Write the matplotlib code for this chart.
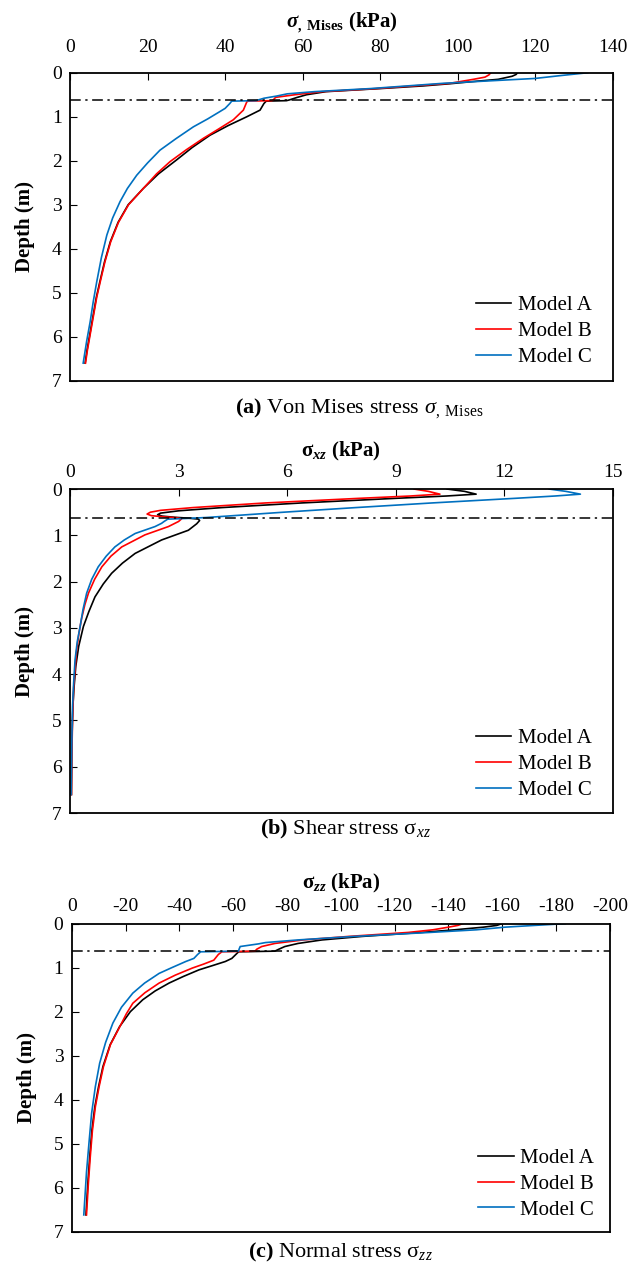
import matplotlib
matplotlib.use("Agg")
import matplotlib.pyplot as plt

plt.rcParams['font.family'] = ['Liberation Serif', 'DejaVu Serif']
plt.rcParams['mathtext.fontset'] = 'custom'
plt.rcParams['mathtext.rm'] = 'Liberation Serif'
plt.rcParams['mathtext.it'] = 'Liberation Serif:italic'
plt.rcParams['mathtext.bf'] = 'Liberation Serif:bold'
plt.rcParams['mathtext.bfit'] = 'Liberation Serif:italic:bold'
plt.rcParams['axes.unicode_minus'] = False

# ---- (a) Von Mises stress (kPa) vs depth (m)
a_depth_A = [0, 0.04, 0.08, 0.15, 0.2, 0.25, 0.3, 0.36, 0.43, 0.5, 0.56, 0.62, 0.635, 0.645, 0.7, 0.85, 1.0, 1.2, 1.42, 1.7, 1.98, 2.3, 2.63, 3.0, 3.4, 3.84, 4.3, 4.75, 5.1, 5.5, 6.0, 6.3, 6.6]
a_val_A = [115.4, 115, 114, 110.4, 104, 98, 91, 80, 66, 61, 58.6, 56.5, 55.8, 50.6, 50.0, 49.0, 45.6, 40.8, 36.1, 31.5, 27.5, 22.8, 18.9, 15.0, 12.4, 10.4, 8.9, 7.7, 6.8, 6.0, 5.0, 4.4, 3.9]
a_depth_B = [0, 0.05, 0.1, 0.15, 0.24, 0.36, 0.43, 0.5, 0.56, 0.62, 0.635, 0.645, 0.66, 0.85, 1.07, 1.28, 1.49, 1.75, 2.02, 2.3, 2.63, 3.0, 3.4, 3.84, 4.3, 4.75, 5.1, 5.5, 6.0, 6.3, 6.6]
a_val_B = [108.5, 108, 107, 104, 98, 79, 65, 58, 53, 52.4, 52, 46, 45.6, 44.7, 42.1, 38.3, 34.4, 30.0, 25.8, 22.3, 18.9, 15.1, 12.5, 10.5, 9.0, 7.8, 6.9, 6.1, 5.1, 4.5, 4.0]
a_depth_C = [0, 0.06, 0.13, 0.24, 0.36, 0.43, 0.48, 0.53, 0.58, 0.62, 0.635, 0.645, 0.7, 0.81, 0.88, 1.05, 1.23, 1.5, 1.76, 2.05, 2.33, 2.63, 2.93, 3.3, 3.69, 4.2, 4.75, 5.2, 5.66, 6.1, 6.6]
a_val_C = [133.5, 127, 119.9, 96.3, 77.5, 63, 56, 53.3, 50, 48.5, 48, 41.7, 41.2, 40.0, 38.7, 35.5, 31.8, 27.3, 23.2, 20.0, 17.2, 14.8, 12.9, 11.0, 9.5, 8.1, 6.9, 6.0, 5.2, 4.3, 3.4]

# ---- (b) Shear stress (kPa)
b_depth_A = [0, 0.05, 0.11, 0.15, 0.2, 0.3, 0.4, 0.47, 0.52, 0.555, 0.585, 0.61, 0.63, 0.65, 0.68, 0.75, 0.89, 1.1, 1.39, 1.6, 1.82, 2.05, 2.33, 2.65, 2.97, 3.4, 3.83, 4.3, 4.7, 5.5, 6.6]
b_val_A = [10.42, 10.9, 11.22, 10.4, 9.0, 6.4, 4.2, 3.0, 2.5, 2.42, 2.55, 2.9, 3.3, 3.55, 3.58, 3.5, 3.27, 2.53, 1.80, 1.45, 1.15, 0.92, 0.69, 0.52, 0.37, 0.24, 0.16, 0.11, 0.08, 0.05, 0.04]
b_depth_B = [0, 0.05, 0.11, 0.15, 0.2, 0.3, 0.4, 0.46, 0.5, 0.54, 0.575, 0.6, 0.62, 0.645, 0.7, 0.81, 0.99, 1.1, 1.25, 1.45, 1.68, 1.95, 2.25, 2.5, 2.8, 3.1, 3.5, 4.3, 5.0, 5.8, 6.6]
b_val_B = [9.51, 9.9, 10.22, 9.4, 8.0, 5.4, 3.4, 2.5, 2.22, 2.13, 2.25, 2.6, 2.95, 3.08, 3.0, 2.72, 2.07, 1.8, 1.43, 1.13, 0.88, 0.68, 0.51, 0.41, 0.32, 0.25, 0.18, 0.1, 0.07, 0.05, 0.04]
b_depth_C = [0, 0.05, 0.11, 0.15, 0.2, 0.3, 0.4, 0.5, 0.57, 0.615, 0.635, 0.65, 0.7, 0.74, 0.81, 0.96, 1.1, 1.25, 1.45, 1.68, 1.95, 2.25, 2.6, 2.97, 3.3, 3.69, 4.2, 4.7, 5.5, 6.6]
b_val_C = [13.24, 13.7, 14.1, 13.4, 12.3, 10.0, 7.9, 5.9, 4.6, 3.76, 3.2, 2.7, 2.6, 2.53, 2.35, 1.80, 1.5, 1.24, 1.0, 0.78, 0.6, 0.46, 0.36, 0.28, 0.2, 0.14, 0.1, 0.07, 0.05, 0.03]

# ---- (c) Normal stress (kPa)
c_depth_A = [0, 0.04, 0.08, 0.14, 0.2, 0.29, 0.37, 0.45, 0.52, 0.58, 0.625, 0.64, 0.7, 0.79, 0.86, 0.95, 1.05, 1.2, 1.35, 1.53, 1.73, 2.0, 2.34, 2.75, 3.25, 3.7, 4.16, 4.7, 5.3, 5.9, 6.62]
c_val_A = [-159.8, -158, -153, -142.3, -130, -108, -93, -84.1, -79.2, -77, -75.5, -62.0, -61, -59.5, -57.1, -52.5, -47.3, -41.5, -36.2, -31, -26.4, -21.8, -17.8, -14.3, -11.6, -10.0, -8.6, -7.5, -6.7, -6.0, -5.3]
c_depth_B = [0, 0.04, 0.08, 0.14, 0.2, 0.29, 0.37, 0.45, 0.52, 0.58, 0.625, 0.64, 0.7, 0.83, 0.92, 1.01, 1.17, 1.35, 1.57, 1.81, 2.05, 2.34, 2.75, 3.25, 3.7, 4.16, 4.7, 5.3, 5.9, 6.62]
c_val_B = [-145.3, -143.5, -140, -134.2, -125, -103, -86, -75.5, -70.6, -68.8, -68.1, -55.8, -54.5, -52.8, -49, -44.8, -38.5, -32.5, -27.2, -22.7, -20.3, -17.9, -14.4, -11.8, -10.2, -8.8, -7.7, -6.9, -6.2, -5.5]
c_depth_C = [0, 0.04, 0.08, 0.14, 0.2, 0.29, 0.37, 0.43, 0.46, 0.52, 0.58, 0.625, 0.64, 0.7, 0.79, 0.86, 1.0, 1.13, 1.35, 1.58, 1.9, 2.26, 2.7, 3.17, 3.7, 4.31, 5.0, 5.65, 6.62]
c_val_C = [-183.4, -172, -161, -150.4, -133, -105, -84.1, -72, -69.4, -62.6, -62.2, -62.0, -47.9, -46.8, -45.4, -42.4, -37.2, -32.5, -27.1, -22.7, -18.5, -15.3, -12.6, -10.4, -8.8, -7.4, -6.4, -5.5, -4.5]

models = ["Model A", "Model B", "Model C"]
colors = ["black", "#FF0000", "#0070C0"]
interface_depth = 0.63

fig = plt.figure(figsize=(6.3, 12.67), dpi=100)

panels = [
    dict(rect=[0.1111, 0.6995, 0.8619, 0.2431],
         data=[(a_val_A, a_depth_A), (a_val_B, a_depth_B), (a_val_C, a_depth_C)],
         xlim=(0, 140), xticks=range(0, 141, 20), tpad=12, lpad=8, leg=(0.995, -0.016),
         title=r"$\mathbfit{\sigma}_{\mathbf{,\ Mises}}$ (kPa)",
         caption=r"$\mathbf{(a)}$ Von Mises stress $\sigma_{\mathrm{,\ Mises}}$",
         cap_xy=(0.571, 0.678)),
    dict(rect=[0.1111, 0.3583, 0.8619, 0.2557],
         data=[(b_val_A, b_depth_A), (b_val_B, b_depth_B), (b_val_C, b_depth_C)],
         xlim=(0, 15), xticks=range(0, 16, 3), tpad=6, lpad=5, leg=(0.995, -0.018),
         title=r"$\mathbf{\sigma}_{\mathbfit{xz}}$ (kPa)",
         caption=r"$\mathbf{(b)}$ Shear stress $\mathrm{\sigma}_{xz}$",
         cap_xy=(0.548, 0.345)),
    dict(rect=[0.1138, 0.0279, 0.8544, 0.2431],
         data=[(c_val_A, c_depth_A), (c_val_B, c_depth_B), (c_val_C, c_depth_C)],
         xlim=(0, -200), xticks=range(0, -201, -20), tpad=6, lpad=7, leg=(1.005, -0.022),
         title=r"$\mathbf{\sigma}_{\mathbfit{zz}}$ (kPa)",
         caption=r"$\mathbf{(c)}$ Normal stress $\mathrm{\sigma}_{zz}$",
         cap_xy=(0.540, 0.0118)),
]

for p in panels:
    ax = fig.add_axes(p["rect"])
    for (x, y), c, m in zip(p["data"], colors, models):
        ax.plot(x, y, color=c, lw=1.2, label=m)
    ax.axhline(interface_depth, color="black", lw=1.1, ls=(0, (7, 3, 1.5, 3)))
    ax.set_xlim(*p["xlim"])
    ax.set_ylim(7, 0)
    ax.set_xticks(list(p["xticks"]))
    ax.set_yticks(range(0, 8))
    ax.xaxis.tick_top()
    ax.xaxis.set_label_position("top")
    ax.tick_params(axis="both", direction="in", length=5, labelsize=14, pad=6,
                   top=True, bottom=False, left=True, right=False)
    ax.tick_params(axis="x", pad=p["tpad"])
    ax.set_xlabel(p["title"], fontsize=15, fontweight="bold", labelpad=p["lpad"])
    ax.set_ylabel("Depth (m)", fontsize=15, fontweight="bold", labelpad=12)
    for s in ax.spines.values():
        s.set_linewidth(1.3)
    ax.legend(loc="lower right", bbox_to_anchor=p["leg"], frameon=False, fontsize=15,
              handlelength=1.7, handletextpad=0.3, labelspacing=0.3)
    fig.text(p["cap_xy"][0], p["cap_xy"][1], p["caption"], ha="center", va="center", fontsize=16)

fig.savefig("out.png", dpi=100)
